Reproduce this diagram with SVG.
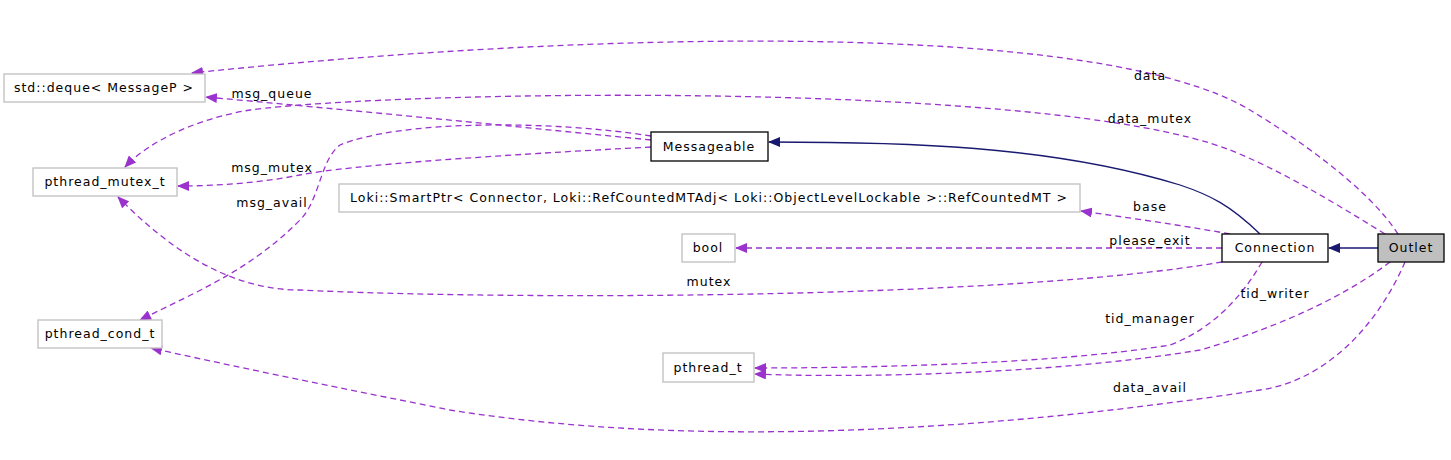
<svg xmlns="http://www.w3.org/2000/svg" width="1451" height="460" viewBox="0 0 1451 460">
<style>
text{font-family:"DejaVu Sans",sans-serif;font-size:12.5px;letter-spacing:1px;fill:#000;text-anchor:middle}
.n{fill:#fff;stroke:#bfbfbf;stroke-width:1.3}
.b{fill:#fff;stroke:#000;stroke-width:1.3}
.u{fill:none;stroke:#9a32cd;stroke-width:1.3;stroke-dasharray:6,4}
.i{fill:none;stroke:#191970;stroke-width:1.3}
</style>
<defs>
<marker id="pa" markerWidth="12" markerHeight="10" refX="11" refY="5" orient="auto" markerUnits="userSpaceOnUse"><path d="M0,0 L12,5 L0,10 Z" fill="#9a32cd"/></marker>
<marker id="na" markerWidth="12" markerHeight="10" refX="11" refY="5" orient="auto" markerUnits="userSpaceOnUse"><path d="M0,0 L12,5 L0,10 Z" fill="#191970"/></marker>
</defs>
<g id="edges">
<path class="u" marker-end="url(#pa)" d="M1398,234 C1370,190 1300,140 1250,110 C1100,20 600,30 192,73"/>
<path class="u" marker-end="url(#pa)" d="M1385,234 C1330,200 1280,170 1230,150 C1050,80 400,90 250,110 C200,118 150,140 125,167"/>
<path class="u" marker-end="url(#pa)" d="M651,140 C500,125 350,110 206,97"/>
<path class="u" marker-end="url(#pa)" d="M651,147 C500,155 350,165 300,175 C250,185 200,186 178,186"/>
<path class="u" marker-end="url(#pa)" d="M651,136 C550,120 400,120 340,145 C320,160 320,200 300,220 C250,270 200,290 140,320"/>
<path class="u" marker-end="url(#pa)" d="M1230,234 C1180,225 1130,218 1081,211"/>
<path class="u" marker-end="url(#pa)" d="M1222,248 L736,248"/>
<path class="u" marker-end="url(#pa)" d="M1222,262 C1000,300 500,300 300,290 C230,290 170,250 118,197"/>
<path class="u" marker-end="url(#pa)" d="M1262,262 C1240,300 1210,330 1170,345 C1050,365 850,368 755,368"/>
<path class="u" marker-end="url(#pa)" d="M1390,262 C1340,300 1270,330 1200,350 C1050,375 850,378 755,374"/>
<path class="u" marker-end="url(#pa)" d="M1405,262 C1380,320 1330,380 1260,390 C1000,430 700,450 450,410 C350,390 250,370 151,348"/>
<path class="i" marker-end="url(#na)" d="M1260,234 C1230,205 1210,195 1180,185 C1050,145 900,142 769,142"/>
<path class="i" marker-end="url(#na)" d="M1378,248 L1329,248"/>
<text x="1150" y="80">data</text>
<text x="1150" y="123">data_mutex</text>
<text x="272" y="98">msg_queue</text>
<text x="272" y="172">msg_mutex</text>
<text x="272" y="207">msg_avail</text>
<text x="1150" y="211">base</text>
<text x="1150" y="245">please_exit</text>
<text x="709" y="286">mutex</text>
<text x="1150" y="323">tid_manager</text>
<text x="1275" y="298">tid_writer</text>
<text x="1150" y="392">data_avail</text>
</g>
<g id="deque"><rect class="n" x="4" y="74" width="201" height="28"/><text x="104" y="92">std::deque&lt; MessageP &gt;</text></g>
<g id="mutex_t"><rect class="n" x="33" y="168" width="144" height="28"/><text x="105" y="186">pthread_mutex_t</text></g>
<g id="cond_t"><rect class="n" x="38" y="320" width="124" height="28"/><text x="100" y="338">pthread_cond_t</text></g>
<g id="messageable"><rect class="b" x="651" y="132" width="117" height="29"/><text x="709" y="151">Messageable</text></g>
<g id="loki"><rect class="n" x="339" y="184" width="741" height="28"/><text x="709" y="202">Loki::SmartPtr&lt; Connector, Loki::RefCountedMTAdj&lt; Loki::ObjectLevelLockable &gt;::RefCountedMT &gt;</text></g>
<g id="bool"><rect class="n" x="682" y="234" width="53" height="28"/><text x="708" y="252">bool</text></g>
<g id="pthread_t"><rect class="n" x="663" y="353" width="91" height="29"/><text x="708" y="372">pthread_t</text></g>
<g id="connection"><rect class="b" x="1222" y="234" width="106" height="28"/><text x="1275" y="252">Connection</text></g>
<g id="outlet"><rect x="1378" y="234" width="66" height="28" fill="#bfbfbf" stroke="#000" stroke-width="1.3"/><text x="1411" y="252">Outlet</text></g>
</svg>
